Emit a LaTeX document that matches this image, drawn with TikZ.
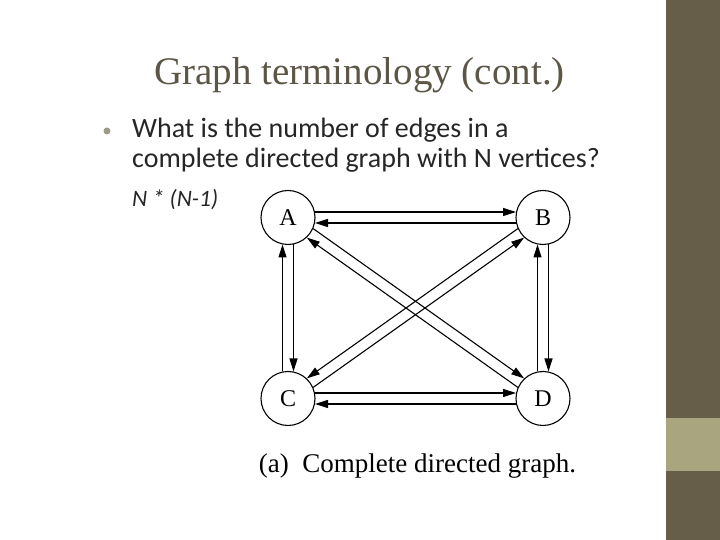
\documentclass[tikz,border=0pt]{standalone}
\usepackage{fontspec}
\setmainfont{Liberation Serif}
\newfontfamily\bodyfont{Carlito}
\usepackage{tikz}
\usetikzlibrary{positioning,calc,arrows.meta}
\definecolor{bardark}{HTML}{665E48}
\definecolor{barlight}{HTML}{A8A57F}
\definecolor{titlegray}{HTML}{5C5646}
\definecolor{dotgray}{HTML}{9C9A88}
\begin{document}
\begin{tikzpicture}[x=1pt,y=1pt,
	vertex/.style={draw,circle,line width=1.1pt,minimum size=54pt,inner sep=0pt,font=\fontsize{24}{26}\selectfont},
	link/.style={line width=1.1pt,-{Triangle[length=13pt,width=8pt]},shorten >=27pt,shorten <=27pt}]
	  \useasboundingbox (0,0) rectangle (720,540);
	  \fill[bardark] (666,0) rectangle (720,540);
	  \fill[barlight] (666,69) rectangle (720,122);
	  \node (T) [anchor=base,text=titlegray,font=\fontsize{39}{44}\selectfont] at (359.5,455) {Graph terminology (cont.)};
	  \fill[dotgray] (107,409) circle (3.5pt);
	  \node (L1) [anchor=base west,inner sep=0pt,text=black!85,font=\bodyfont\fontsize{28}{32}\selectfont] at (132,402) {What is the number of edges in a};
	  \node (L2) [anchor=base west,inner sep=0pt,text=black!85,font=\bodyfont\fontsize{28}{32}\selectfont] at (132,372) {complete directed graph with N vertices?};
	  \node (F) [anchor=base west,inner sep=0pt,text=black!85,font=\bodyfont\itshape\fontsize{23.5}{26}\selectfont] at (132,333) {N * (N-1)};
	  \node [vertex] (A) at (288,322.5) {A};
	  \node [vertex] (B) at (543,322.5) {B};
	  \node [vertex] (C) at (288,141.5) {C};
	  \node [vertex] (D) at (543,141.5) {D};
	  % each arrow runs beside its partner
	  \draw[link] ($(A)!5.5pt!90:(B)$) -- ($(B)!5.5pt!-90:(A)$);
	  \draw[link] ($(B)!5.5pt!90:(A)$) -- ($(A)!5.5pt!-90:(B)$);
	  \draw[link] ($(A)!5.5pt!90:(C)$) -- ($(C)!5.5pt!-90:(A)$);
	  \draw[link] ($(C)!5.5pt!90:(A)$) -- ($(A)!5.5pt!-90:(C)$);
	  \draw[link] ($(B)!5.5pt!90:(D)$) -- ($(D)!5.5pt!-90:(B)$);
	  \draw[link] ($(D)!5.5pt!90:(B)$) -- ($(B)!5.5pt!-90:(D)$);
	  \draw[link] ($(C)!5.5pt!90:(D)$) -- ($(D)!5.5pt!-90:(C)$);
	  \draw[link] ($(D)!5.5pt!90:(C)$) -- ($(C)!5.5pt!-90:(D)$);
	  \draw[link] ($(A)!5.5pt!90:(D)$) -- ($(D)!5.5pt!-90:(A)$);
	  \draw[link] ($(D)!5.5pt!90:(A)$) -- ($(A)!5.5pt!-90:(D)$);
	  \draw[link] ($(B)!5.5pt!-90:(C)$) -- ($(C)!5.5pt!90:(B)$);
	  \draw[link] ($(C)!5.5pt!-90:(B)$) -- ($(B)!5.5pt!90:(C)$);
	  \node (cap) [anchor=base,font=\fontsize{27}{30}\selectfont] at (417.5,67) {(a)\ \ Complete directed graph.};
	\end{tikzpicture}
\end{document}
